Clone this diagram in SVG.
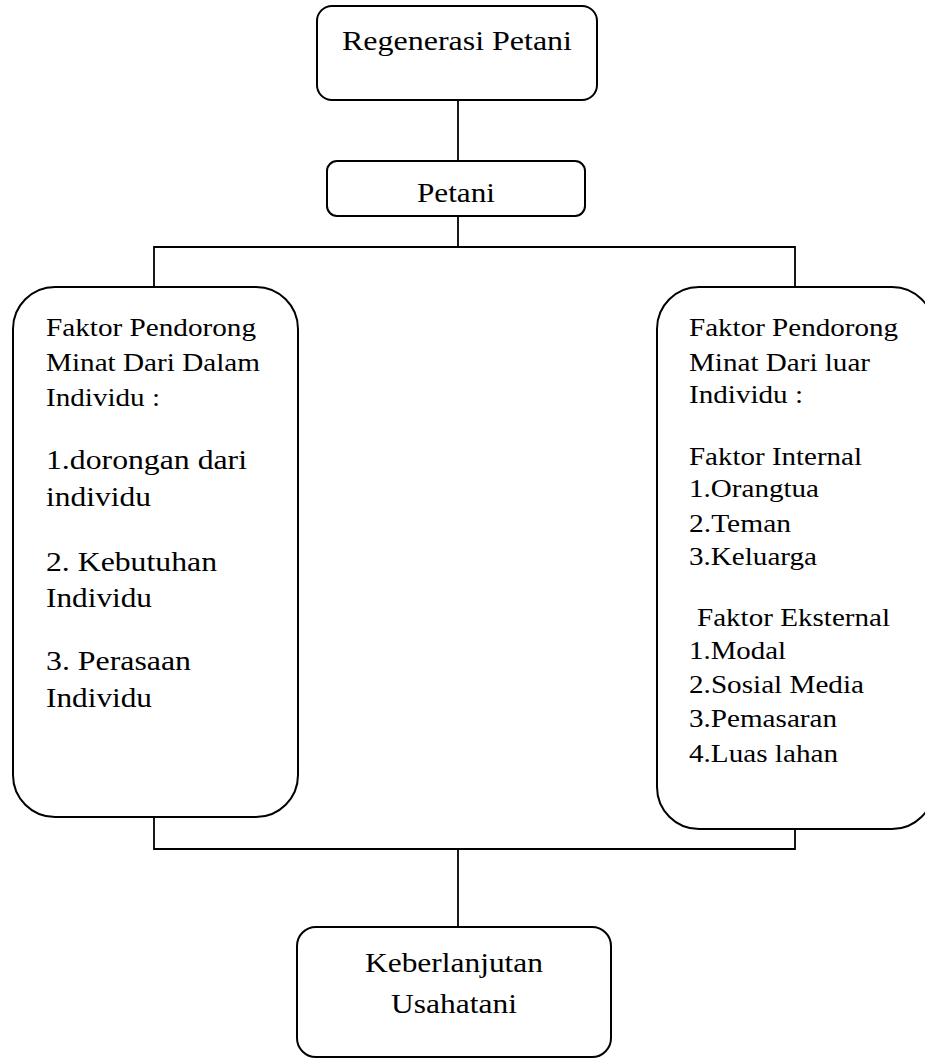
<svg xmlns="http://www.w3.org/2000/svg" width="925" height="1061" viewBox="0 0 925 1061">
<style>
.box{fill:#fff;stroke:#000;stroke-width:2}
.ln{fill:none;stroke:#000;stroke-width:1.8}
text{font-family:"Liberation Serif","Times New Roman",serif;fill:#000}
.t27{font-size:27px}
.t25{font-size:25px}
.c{text-anchor:middle}
</style>
<rect width="925" height="1061" fill="#fff"/>
<g id="connectors">
<line class="ln" x1="458" y1="100" x2="458" y2="161"/>
<line class="ln" x1="458" y1="216" x2="458" y2="247"/>
<polyline class="ln" points="154,287 154,247 795,247 795,287"/>
<polyline class="ln" points="154,817 154,849 795,849 795,829"/>
<line class="ln" x1="458" y1="849" x2="458" y2="927"/>
</g>
<g id="regenerasi">
<rect class="box" x="317" y="6" width="280" height="94" rx="15"/>
<text class="t27 c" x="457" y="50" textLength="230" lengthAdjust="spacingAndGlyphs">Regenerasi Petani</text>
</g>
<g id="petani">
<rect class="box" x="327" y="161" width="258" height="55" rx="10"/>
<text class="t27 c" x="456" y="202" textLength="78" lengthAdjust="spacingAndGlyphs">Petani</text>
</g>
<g id="dalam">
<rect class="box" x="13" y="287" width="285" height="530" rx="42"/>
<text class="t25" x="46" y="336" textLength="210" lengthAdjust="spacingAndGlyphs">Faktor Pendorong</text>
<text class="t25" x="46" y="371" textLength="214" lengthAdjust="spacingAndGlyphs">Minat Dari Dalam</text>
<text class="t25" x="46" y="406" textLength="114" lengthAdjust="spacingAndGlyphs">Individu :</text>
<text class="t27" x="46" y="469" textLength="201" lengthAdjust="spacingAndGlyphs">1.dorongan dari</text>
<text class="t27" x="46" y="506" textLength="105" lengthAdjust="spacingAndGlyphs">individu</text>
<text class="t27" x="46" y="571" textLength="171" lengthAdjust="spacingAndGlyphs">2. Kebutuhan</text>
<text class="t27" x="46" y="607" textLength="106" lengthAdjust="spacingAndGlyphs">Individu</text>
<text class="t27" x="46" y="670" textLength="145" lengthAdjust="spacingAndGlyphs">3. Perasaan</text>
<text class="t27" x="46" y="707" textLength="106" lengthAdjust="spacingAndGlyphs">Individu</text>
</g>
<g id="luar">
<rect class="box" x="657" y="287" width="277" height="542" rx="42"/>
<text class="t25" x="689" y="336" textLength="209" lengthAdjust="spacingAndGlyphs">Faktor Pendorong</text>
<text class="t25" x="689" y="371" textLength="181" lengthAdjust="spacingAndGlyphs">Minat Dari luar</text>
<text class="t25" x="689" y="403" textLength="114" lengthAdjust="spacingAndGlyphs">Individu :</text>
<text class="t25" x="689" y="465" textLength="173" lengthAdjust="spacingAndGlyphs">Faktor Internal</text>
<text class="t25" x="689" y="497" textLength="130" lengthAdjust="spacingAndGlyphs">1.Orangtua</text>
<text class="t25" x="689" y="532" textLength="102" lengthAdjust="spacingAndGlyphs">2.Teman</text>
<text class="t25" x="689" y="565" textLength="128" lengthAdjust="spacingAndGlyphs">3.Keluarga</text>
<text class="t25" x="697" y="626" textLength="193" lengthAdjust="spacingAndGlyphs">Faktor Eksternal</text>
<text class="t25" x="689" y="659" textLength="97" lengthAdjust="spacingAndGlyphs">1.Modal</text>
<text class="t25" x="689" y="693" textLength="175" lengthAdjust="spacingAndGlyphs">2.Sosial Media</text>
<text class="t25" x="689" y="727" textLength="148" lengthAdjust="spacingAndGlyphs">3.Pemasaran</text>
<text class="t25" x="689" y="762" textLength="149" lengthAdjust="spacingAndGlyphs">4.Luas lahan</text>
</g>
<g id="keberlanjutan">
<rect class="box" x="297" y="927" width="314" height="130" rx="19"/>
<text class="t27 c" x="454" y="972" textLength="178" lengthAdjust="spacingAndGlyphs">Keberlanjutan</text>
<text class="t27 c" x="454" y="1013" textLength="126" lengthAdjust="spacingAndGlyphs">Usahatani</text>
</g>
</svg>
